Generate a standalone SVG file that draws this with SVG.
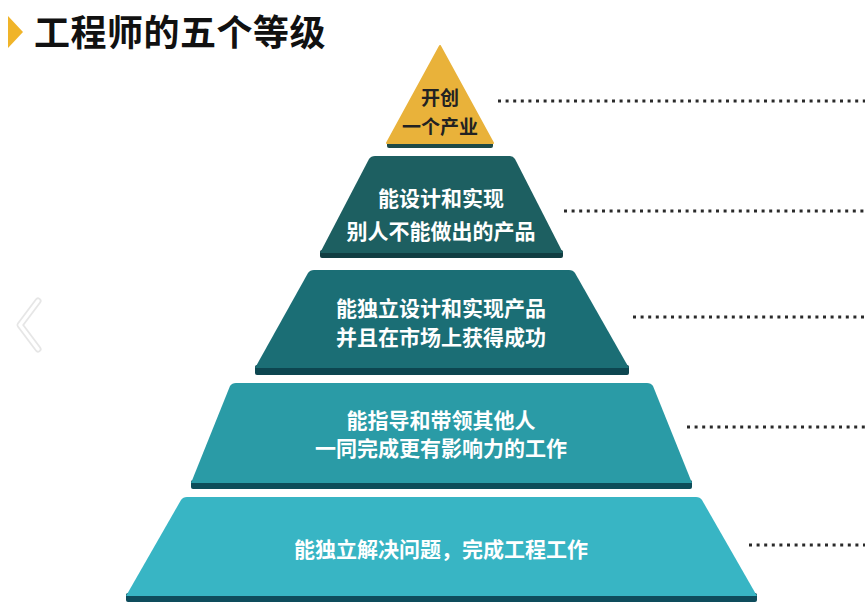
<svg xmlns="http://www.w3.org/2000/svg" width="865" height="612" viewBox="0 0 865 612">
<style>
.t{font-family:"Noto Sans CJK SC","Noto Sans",sans-serif;font-weight:bold;text-anchor:middle}
.w{fill:#ffffff;font-size:21px}
.d{fill:#222222;font-size:19px}
.dot{stroke:#2a2a2a;stroke-width:3;stroke-dasharray:3 4.6;fill:none}
</style>
<rect width="865" height="612" fill="#ffffff"/>
<g id="title">
<polygon points="8,16 23,32 8,48" fill="#F0B429"/>
<text x="34" y="46" font-family="Noto Sans CJK SC, sans-serif" font-weight="bold" font-size="36" letter-spacing="0.5" fill="#111111">工程师的五个等级</text>
</g>
<g id="chevron">
<polyline points="38,301 20,325 38,349" fill="none" stroke="#e6e6e6" stroke-width="7" stroke-linecap="round" stroke-linejoin="round"/>
<polyline points="38,301 20,325 38,349" fill="none" stroke="#ffffff" stroke-width="3.5" stroke-linecap="round" stroke-linejoin="round"/>
</g>
<g id="connectors">
<line class="dot" x1="498" y1="101" x2="865" y2="101"/>
<line class="dot" x1="564" y1="211" x2="865" y2="211"/>
<line class="dot" x1="633" y1="317" x2="865" y2="317"/>
<line class="dot" x1="687" y1="427" x2="865" y2="427"/>
<line class="dot" x1="749" y1="545" x2="865" y2="545"/>
</g>
<g id="level1">
<rect x="387" y="141" width="106" height="7" rx="2" fill="#1E4A47"/>
<path d="M440,46 L493,143 L387,143 Z" fill="#E9B23A" stroke="#E9B23A" stroke-width="2" stroke-linejoin="round"/>
<text class="t d" x="440" y="105">开创</text>
<text class="t d" x="440" y="134" font-size="20">一个产业</text>
</g>
<g id="level2">
<rect x="320" y="250" width="243" height="8" rx="2" fill="#113E42"/>
<path d="M375,156 L510,156 Q513,156 515,159 L563,253 L320,253 L369,159 Q371,156 375,156 Z" fill="#1D5F61"/>
<text class="t w" x="441" y="206">能设计和实现</text>
<text class="t w" x="441" y="239">别人不能做出的产品</text>
</g>
<g id="level3">
<rect x="255" y="365" width="374" height="10" rx="2" fill="#0D4650"/>
<path d="M314,270 L569,270 Q573,270 575,273 L629,368 L255,368 L308,273 Q310,270 314,270 Z" fill="#1B6E75"/>
<text class="t w" x="441" y="316">能独立设计和实现产品</text>
<text class="t w" x="441" y="345">并且在市场上获得成功</text>
</g>
<g id="level4">
<rect x="191" y="480" width="501" height="9" rx="2" fill="#0D4D59"/>
<path d="M236,383 L647,383 Q651,383 653,386 L692,483 L191,483 L230,386 Q232,383 236,383 Z" fill="#2A9BA6"/>
<text class="t w" x="441" y="428">能指导和带领其他人</text>
<text class="t w" x="441" y="456">一同完成更有影响力的工作</text>
</g>
<g id="level5">
<rect x="126" y="593" width="631" height="9" rx="2" fill="#0E4C5C"/>
<path d="M187,497 L696,497 Q700,497 702,500 L757,596 L126,596 L181,500 Q183,497 187,497 Z" fill="#38B5C4"/>
<text class="t w" x="441" y="557">能独立解决问题，完成工程工作</text>
</g>
</svg>
